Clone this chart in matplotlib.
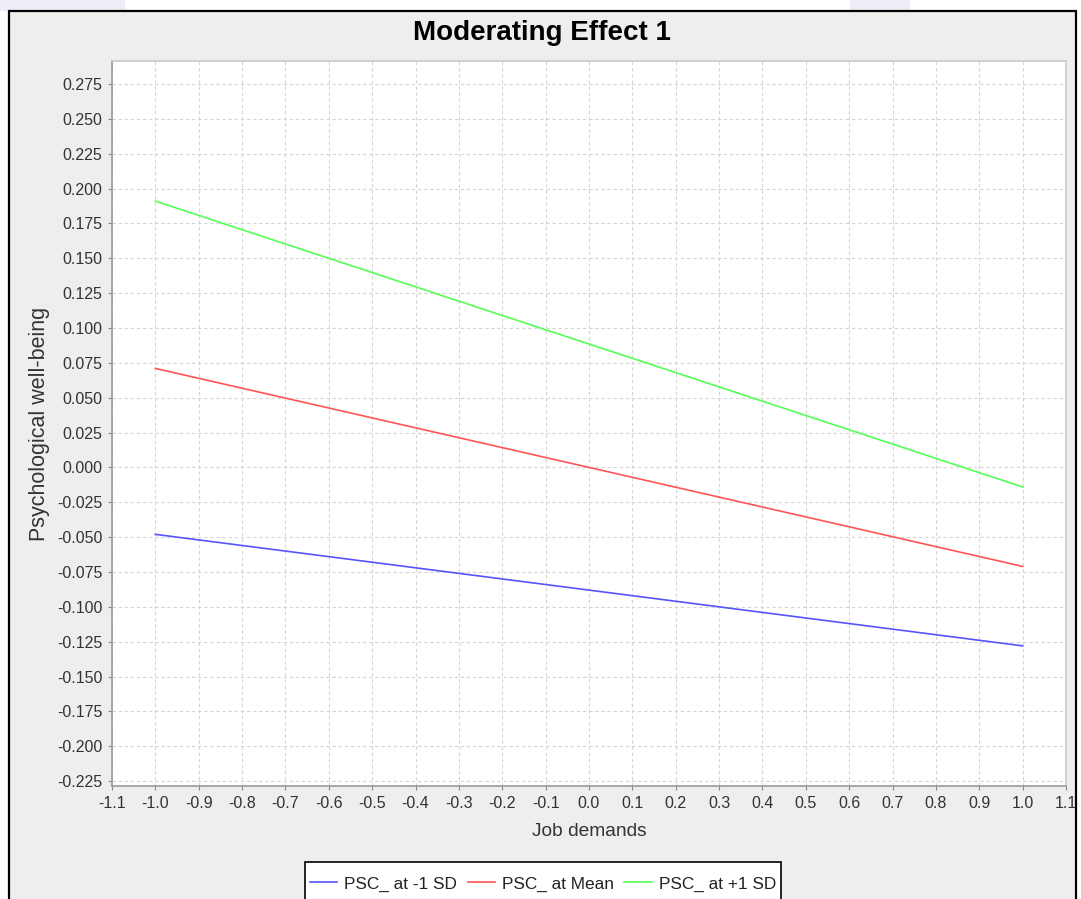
import matplotlib
matplotlib.use("Agg")
import matplotlib.pyplot as plt
import numpy as np
from matplotlib.patches import Rectangle

plt.rcParams['font.family'] = ['Liberation Sans', 'DejaVu Sans']

# Data
x_values = [-1.0, 1.0]
series_names = ["PSC_ at -1 SD", "PSC_ at Mean", "PSC_ at +1 SD"]
low_sd = [-0.048, -0.128]
mean_vals = [0.071, -0.071]
high_sd = [0.191, -0.014]
series_colors = ["#5555FF", "#FF5555", "#55FF55"]
x_ticks = [round(-1.1 + 0.1 * i, 1) for i in range(23)]
y_ticks = [round(-0.225 + 0.025 * i, 3) for i in range(21)]

W, H = 1081, 899
fig = plt.figure(figsize=(W / 100, H / 100), dpi=100)
fig.patch.set_facecolor("white")

# background axes holding the outer chart frame
bg = fig.add_axes([0, 0, 1, 1], zorder=-5)
bg.set_xlim(0, W)
bg.set_ylim(H, 0)
bg.axis("off")
# faint watermark remnants in the page margin
bg.add_patch(Rectangle((0, 0), 125, 11, facecolor="#ECEDF5", edgecolor="none"))
bg.add_patch(Rectangle((850, 0), 60, 11, facecolor="#ECEDF5", edgecolor="none"))
bg.add_patch(Rectangle((9, 11), 1076 - 9, H + 40, facecolor="#EEEEEE",
                       edgecolor="black", linewidth=1.6))

ax = fig.add_axes([112 / W, 1 - 786 / H, (1066 - 112) / W, (786 - 61) / H], zorder=2)
ax.set_facecolor("white")

for vals, name, col in zip([low_sd, mean_vals, high_sd], series_names, series_colors):
    ax.plot(x_values, vals, color=col, linewidth=1.2, label=name, zorder=3)

ax.set_xlim(-1.1, 1.1)
ax.set_ylim(-0.2285, 0.2915)
ax.set_xticks(x_ticks)
ax.set_xticklabels([f"{v:.1f}" if abs(v) > 1e-9 else "0.0" for v in x_ticks])
ax.set_yticks(y_ticks)
ax.set_yticklabels([f"{v:.3f}" if abs(v) > 1e-9 else "0.000" for v in y_ticks])

ax.grid(True, color="#D4D4D4", linestyle=(0, (3, 2.5)), linewidth=0.8, zorder=1)
ax.tick_params(axis="both", labelsize=11.5, colors="#888888", labelcolor="#333333",
               length=3, width=0.8, direction="out", pad=4)

for side in ["left", "bottom"]:
    ax.spines[side].set_color("#999999")
    ax.spines[side].set_linewidth(1.2)
for side in ["top", "right"]:
    ax.spines[side].set_color("#C8C8C8")
    ax.spines[side].set_linewidth(1.2)

ax.set_xlabel("Job demands", fontsize=13.8, color="#333333", labelpad=9)
ax.set_ylabel("Psychological well-being", fontsize=15.5, color="#333333", labelpad=5)

fig.text(542 / W, 1 - 33 / H, "Moderating Effect 1", ha="center", va="center",
         fontsize=20, fontweight="bold", color="black")

leg = fig.legend(loc="center", bbox_to_anchor=(543 / W, 1 - 884 / H),
                 ncol=3, fontsize=12.4, frameon=False,
                 handlelength=1.6, handletextpad=0.4, columnspacing=0.6,
                 borderpad=0.0, borderaxespad=0)
for t in leg.get_texts():
    t.set_color("#222222")

fig.canvas.draw()
bb = leg.get_window_extent()
pad = 5
bg.add_patch(Rectangle((bb.x0 - pad, 862), (bb.x1 - bb.x0) + 2 * pad, 100,
                       facecolor="white", edgecolor="black", linewidth=1.2, zorder=3))

fig.savefig("out.png", dpi=100, facecolor="white")
